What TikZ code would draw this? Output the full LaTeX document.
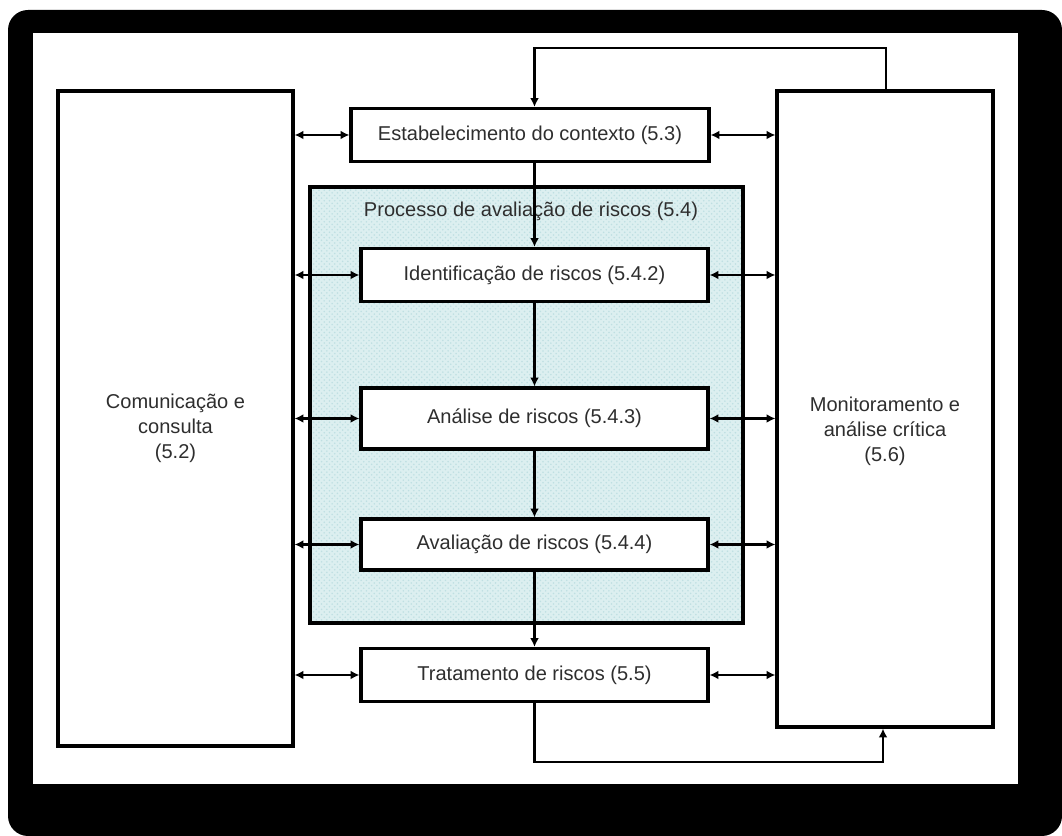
\documentclass[tikz,border=0pt]{standalone}
\usepackage{fontspec}
\setmainfont{Liberation Sans}
\usetikzlibrary{arrows.meta,positioning,calc,patterns}
\definecolor{TextGray}{HTML}{2E2E2E}
\definecolor{ShadeCyan}{HTML}{DCEFF0}
\definecolor{DotCyan}{HTML}{BFDFE2}
\tikzset{
  stepbox/.style={
    rectangle, draw=black, line width=1.8pt, fill=white,
    minimum width=6.94cm, minimum height=1.06cm, align=center,
    font=\fontsize{11.4}{14.2}\selectfont, text=TextGray
  },
  sidebox/.style={
    rectangle, draw=black, line width=1.8pt, fill=white, align=center,
    font=\fontsize{11.4}{14.2}\selectfont, text=TextGray
  },
  flowarrow/.style={-{Latex[length=5pt,width=5pt]}, line width=1.4pt},
  twoway/.style={{Latex[length=5pt,width=5pt]}-{Latex[length=5pt,width=5pt]}, line width=1.4pt},
}

\begin{document}
\begin{tikzpicture}
    % frame
    \useasboundingbox (0,0) rectangle (21.24,16.72);
    \fill[black, rounded corners=0.4cm] (0.16,0) rectangle (21.24,16.52);
    \fill[white] (0.66,1.04) rectangle (20.36,16.06);

    % side boxes
    \node[sidebox, minimum width=4.70cm, minimum height=13.10cm] (comunic) at (3.51,8.35)
      {\\[0.2cm]Comunicação e\\consulta\\(5.2)};
    \node[sidebox, minimum width=4.32cm, minimum height=12.72cm] (monitor) at (17.70,8.54)
      {\\[0.69cm]Monitoramento e\\análise crítica\\(5.6)};

    % risk assessment block
    \node[rectangle, draw=black, line width=1.8pt, preaction={fill=ShadeCyan},
      pattern=crosshatch dots, pattern color=DotCyan,
      minimum width=8.66cm, minimum height=8.72cm] (processo) at (10.53,8.62) {};
    \node[font=\fontsize{11.4}{14.2}\selectfont, text=TextGray] (proclabel) at (10.62,12.50)
      {Processo de avaliação de riscos (5.4)};

    % process steps
    \node[stepbox, minimum width=7.16cm] (contexto) at (10.60,14.02) {Estabelecimento do contexto (5.3)};
    \node[stepbox] (identif) at (10.69,11.22) {Identificação de riscos (5.4.2)};
    \node[stepbox, minimum height=1.22cm] (analise) at (10.69,8.35) {Análise de riscos (5.4.3)};
    \node[stepbox, minimum height=1.02cm] (avaliacao) at (10.69,5.83) {Avaliação de riscos (5.4.4)};
    \node[stepbox] (tratamento) at (10.69,3.22) {Tratamento de riscos (5.5)};

    % main flow
    \draw[flowarrow] (identif.north |- contexto.south) -- (identif.north);
    \draw[flowarrow] (identif) -- (analise);
    \draw[flowarrow] (analise) -- (avaliacao);
    \draw[flowarrow] (avaliacao) -- (tratamento);

    % feedback loops
    \coordinate (topturn) at (17.72,15.76);
    \coordinate (botturn) at (17.66,1.48);
    \draw[flowarrow] (topturn |- monitor.north) -- (topturn) -| (identif.north |- contexto.north);
    \draw[flowarrow] (tratamento.south) |- (botturn) -- (botturn |- monitor.south);

    % links to the side boxes
    \foreach \s in {contexto,identif,analise,avaliacao,tratamento}{
      \draw[twoway] (\s.west -| comunic.east) -- (\s.west);
      \draw[twoway] (\s.east) -- (\s.east -| monitor.west);
    }
  \end{tikzpicture}
\end{document}
